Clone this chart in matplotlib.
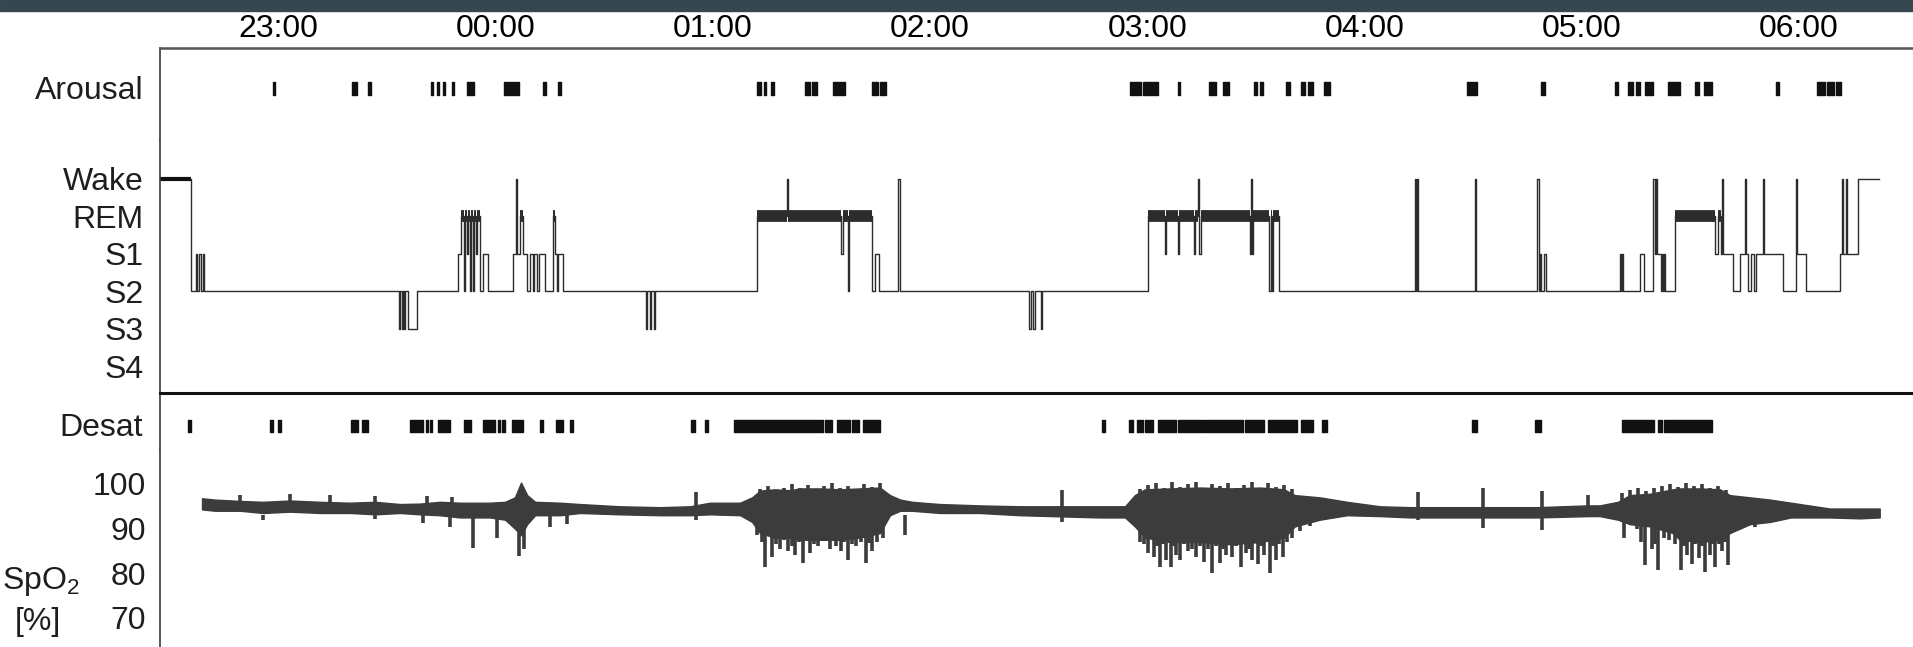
import matplotlib.pyplot as plt
from matplotlib.patches import Rectangle
from matplotlib.transforms import blended_transform_factory

plt.rcParams['font.family'] = ['Liberation Sans', 'DejaVu Sans']
plt.rcParams['mathtext.fontset'] = 'custom'
plt.rcParams['mathtext.rm'] = 'Liberation Sans'
plt.rcParams['text.color'] = '#1e1e1e'

# time axis in minutes after 22:00
hour_ticks = [60, 120, 180, 240, 300, 360, 420, 480]
hour_labels = ['23:00', '00:00', '01:00', '02:00', '03:00', '04:00', '05:00', '06:00']
t_left, t_right = 27.4, 511.5

stage_names = ['S4', 'S3', 'S2', 'S1', 'REM', 'Wake']
stage_level = {'4': 0, '3': 1, '2': 2, '1': 3, 'R': 4, 'W': 5}

# hypnogram: time of each stage change and the stage entered
hyp_t = [27.4, 36.0, 37.4, 37.6, 38.3, 38.6, 39.3, 39.6,
         93.4, 93.7, 94.1, 94.4, 94.8, 95.1, 95.9, 98.4,
         109.7, 110.5, 111.4, 111.6, 112.2, 112.5, 113.0, 113.3, 113.8, 114.1, 114.7, 115.0, 115.8, 116.6, 118.0,
         124.9, 125.7, 126.0, 126.8, 127.7, 128.8, 129.6, 130.4, 130.8, 131.5, 132.1, 133.7, 135.9, 136.4, 136.9, 137.3, 138.6,
         161.6, 162.0, 162.7, 163.1, 163.8, 164.2,
         192.3, 200.5, 200.8, 215.5, 215.9, 217.4, 217.7, 224.0, 224.8, 226.0, 231.2, 231.8,
         267.4, 267.8, 268.5, 268.9, 270.7, 271.1,
         300.2, 304.9, 305.2, 308.5, 308.8, 312.9, 313.2, 314.0, 314.3, 314.9, 328.4, 328.7, 329.0, 329.2, 333.6, 334.1, 334.5, 334.7, 336.4,
         374.0, 374.2, 374.5, 374.8, 390.5, 390.8, 407.6, 408.2, 408.5, 408.7, 409.6, 410.1,
         430.6, 430.8, 431.1, 431.4, 436.1, 437.2, 439.7, 440.2, 440.5, 440.8, 441.9, 442.2, 442.4, 442.7, 443.0,
         445.7, 456.8, 457.6, 458.4, 458.7, 459.0, 461.8, 463.7, 465.1, 465.4, 465.9, 466.7, 467.6, 468.1,
         470.1, 470.3, 475.6, 479.2, 479.4, 481.9, 491.3, 491.9, 492.1, 493.0, 493.2, 496.3]
hyp_stage = ['W', '2', '1', '2', '1', '2', '1', '2',
             '3', '2', '3', '2', '3', '2', '3', '2',
             '1', 'R', '2', 'R', '1', 'R', '2', 'R', '2', 'R', '1', 'R', '2', '1', '2',
             '1', 'W', '1', 'R', '1', '2', '1', '2', '1', '2', '1', '2', 'R', '1', '2', '1', '2',
             '3', '2', '3', '2', '3', '2',
             'R', 'W', 'R', '1', 'R', '2', 'R', '2', '1', '2', 'W', '2',
             '3', '2', '3', '2', '3', '2',
             'R', '1', 'R', '1', 'R', '1', 'R', 'W', '1', 'R', '1', 'W', '1', 'R', '2', 'R', '2', 'R', '2',
             'W', '2', 'W', '2', 'W', '2', 'W', '2', '1', '2', '1', '2',
             '1', '2', '1', '2', '1', '2', 'W', '1', 'W', '1', '2', '1', '2', '1', '2',
             'R', '1', 'R', '1', 'W', '1', '2', '1', 'W', '1', '2', '1', '2', '1',
             'W', '1', '2', 'W', '1', '2', '1', 'W', '1', 'W', '1', 'W']
hyp_end = 502.1

# arousal events (minutes)
arousal_start = [58.6, 80.4, 84.9, 102.3, 103.9, 105.6, 108.1, 112.2, 122.4, 124.6, 133.2, 137.3,
                 192.3, 194.2, 196.1, 205.5, 207.5, 213.3, 224.0, 226.2,
                 295.3, 298.9, 308.5, 317.1, 320.9, 329.5, 331.2, 338.3, 342.5, 344.4, 348.8,
                 388.3, 408.7, 429.2, 432.8, 435.0, 437.5, 443.8, 451.2, 453.7, 473.8, 485.0, 487.8, 490.2]
arousal_end = [59.2, 81.8, 85.7, 102.8, 104.5, 106.1, 108.6, 114.1, 124.3, 126.6, 134.0, 138.1,
               193.4, 194.8, 197.0, 206.9, 208.8, 216.6, 225.7, 227.9,
               298.3, 303.0, 309.1, 319.0, 322.6, 330.3, 332.0, 339.4, 343.6, 345.8, 350.5,
               391.1, 409.8, 430.0, 434.2, 436.1, 439.7, 447.1, 452.3, 455.9, 474.6, 487.2, 489.7, 491.6]

# desaturation events (minutes)
desat_start = [35.2, 57.8, 60.0, 80.2, 83.2, 96.5, 100.9, 102.0, 104.2, 111.4, 116.6, 120.8, 121.9, 124.6, 132.4, 136.8, 140.6,
               174.0, 177.9, 185.9, 211.0, 214.4, 218.6, 221.6,
               287.5, 295.0, 297.2, 299.4, 303.0, 308.5, 314.9, 327.0, 333.4, 342.5, 348.3,
               389.7, 407.1, 431.1, 441.1, 442.7]
desat_end = [36.0, 58.6, 60.8, 82.1, 84.9, 100.0, 101.4, 102.5, 107.5, 113.3, 119.9, 121.3, 122.7, 127.7, 133.2, 138.7, 141.5,
             175.1, 178.7, 210.5, 213.0, 218.0, 220.5, 226.3,
             288.4, 296.1, 298.9, 301.6, 308.0, 314.6, 326.5, 332.3, 341.4, 345.8, 349.7,
             391.1, 408.7, 439.9, 442.2, 456.0]

# SpO2 trace: upper / lower envelope of the signal band (%)
spo2_t = [39.0, 42.6, 49.5, 55.9, 63.3, 71.6, 79.9, 86.8, 93.7, 99.2,
          104.7, 110.3, 118.5, 122.7, 125.4, 127.1, 128.8, 131.0, 137.9, 143.4,
          154.4, 165.5, 173.8, 179.3, 187.6, 190.9, 193.1, 197.2,
          201.4, 204.1, 209.7, 215.2, 220.7, 226.2, 229.0, 231.8, 235.1, 242.8,
          253.8, 264.9, 287.0, 293.9, 296.6, 299.4, 306.3,
          314.6, 322.9, 331.2, 337.8, 340.8, 347.7, 355.2, 364.3, 372.9,
          391.4, 407.6, 421.7, 425.0, 430.0,
          433.3, 438.8, 445.2, 447.1, 452.6, 458.2, 460.9, 466.5, 472.0, 477.8,
          488.5, 496.8, 502.3]
spo2_hi = [96.8, 96.5, 96.2, 96.0, 96.3, 96.0, 95.8, 96.0, 95.5, 95.6,
           96.0, 95.8, 95.8, 96.0, 97.0, 100.3, 97.5, 96.0, 95.8, 95.5,
           95.0, 94.8, 95.0, 95.8, 95.8, 97.0, 98.5, 98.8,
           98.6, 99.0, 99.0, 98.8, 99.0, 99.2, 97.5, 96.5, 96.0, 95.5,
           95.2, 95.0, 95.0, 95.0, 97.5, 98.8, 99.0,
           99.2, 99.0, 99.2, 98.8, 97.5, 97.0, 96.0, 95.0, 94.8,
           94.8, 94.8, 95.2, 95.2, 96.0,
           97.5, 97.8, 98.8, 99.0, 99.0, 98.8, 97.5, 97.0, 96.5, 95.8,
           94.5, 94.5, 94.5]
spo2_lo = [94.3, 94.0, 94.0, 93.5, 93.8, 93.5, 93.5, 93.2, 93.5, 93.2,
           93.0, 92.5, 92.5, 92.0, 90.0, 88.5, 91.0, 93.0, 93.0, 93.5,
           93.2, 93.0, 93.0, 93.2, 93.0, 91.5, 89.0, 88.0,
           88.0, 87.5, 87.5, 87.5, 88.0, 89.0, 93.0, 94.0, 94.0, 93.5,
           93.5, 93.0, 92.5, 92.5, 90.5, 88.0, 87.0,
           87.0, 86.5, 87.0, 88.0, 90.5, 92.0, 93.0, 92.8, 92.5,
           92.5, 92.5, 92.8, 92.8, 92.0,
           91.0, 90.5, 89.0, 87.5, 87.0, 87.5, 89.0, 91.0, 91.5, 92.5,
           92.5, 92.3, 92.5]

# short upward SpO2 spikes: time and peak value
peak_t = [49.5, 63.3, 74.4, 86.8, 101.2, 108.1,
          175.4, 193.1, 195.3, 197.5, 199.7, 201.9, 204.1, 206.3, 208.6, 210.8, 213.0,
          215.2, 217.4, 219.6, 221.8, 224.0, 226.2, 276.5,
          298.0, 300.2, 302.4, 304.6, 306.9, 309.1, 311.3, 313.5, 315.7, 317.9,
          320.1, 322.3, 324.5, 326.7, 329.0, 331.2, 333.4, 335.6, 337.8, 340.0,
          374.8, 392.7, 409.0, 421.7,
          431.1, 433.3, 435.5, 437.7, 439.9, 442.2, 444.4, 446.6, 448.8, 451.0,
          453.2, 455.4, 457.6, 459.8]
peak_max = [97.5, 97.8, 97.5, 97.3, 97.3, 97.0,
            98.2, 98.8, 99.6, 98.5, 99.2, 100.0, 99.0, 99.8, 98.6, 99.5, 100.2,
            99.0, 99.6, 98.7, 100.0, 99.3, 100.3, 98.7,
            98.8, 99.8, 100.2, 99.0, 100.5, 99.3, 99.9, 100.4, 99.0, 100.1,
            99.5, 100.3, 99.2, 99.8, 100.5, 99.0, 100.2, 99.4, 99.8, 98.8,
            98.2, 99.0, 98.5, 97.5,
            98.0, 98.6, 99.0, 98.5, 99.2, 99.6, 100.0, 99.3, 100.2, 99.5,
            100.0, 99.2, 99.6, 98.6]

# downward SpO2 spikes: time and lowest value
dip_t = [55.9, 86.8, 100.0, 107.5, 113.9, 120.5, 126.6, 127.9, 135.1, 139.8, 175.4,
         192.3, 193.6, 194.5, 196.4, 197.5, 198.6, 199.7, 200.8, 201.9, 202.8, 204.0, 205.0,
         206.9, 208.0, 209.1, 211.0, 212.4, 214.0, 215.5, 216.4, 217.4, 218.5, 219.6, 221.0,
         222.4, 223.2, 224.0, 225.4, 227.1, 233.1, 276.5,
         298.0, 299.1, 300.2, 301.9, 302.7, 303.5, 304.3, 305.2, 306.6, 307.3, 308.0, 309.1,
         310.2, 311.3, 312.4, 313.5, 314.6, 315.7, 316.8, 317.9, 319.0, 320.1, 321.0, 321.8,
         322.6, 323.4, 324.6, 325.9, 326.6, 327.3, 328.1, 329.0, 330.6, 331.4, 332.3, 333.9,
         334.8, 335.6, 336.5, 337.5, 338.7, 340.0, 342.2, 345.0,
         374.8, 392.7, 409.0,
         431.7, 435.3, 436.4, 437.5, 439.4, 440.2, 441.1, 442.7, 444.0, 445.8, 447.4, 448.2,
         449.1, 450.4, 451.3, 452.4, 453.2, 454.0, 455.4, 456.1, 456.8, 457.8, 458.7, 459.6,
         460.4, 467.8]
dip_min = [92.0, 92.2, 91.3, 90.4, 85.7, 88.0, 83.9, 85.5, 90.4, 91.0, 92.0,
           88.5, 87.0, 81.4, 83.7, 86.5, 85.5, 87.5, 85.0, 86.0, 84.0, 87.0, 82.3,
           84.5, 86.5, 86.0, 87.5, 85.5, 86.0, 85.0, 87.0, 83.0, 86.5, 86.0, 87.0,
           82.3, 86.8, 85.0, 87.0, 88.0, 88.6, 91.5,
           87.0, 86.5, 84.5, 83.7, 86.0, 81.4, 86.5, 83.0, 81.4, 86.0, 84.0, 83.0,
           86.5, 85.0, 85.5, 83.7, 86.0, 82.5, 85.5, 80.0, 86.0, 82.3, 85.5, 84.0,
           86.5, 83.7, 86.0, 81.4, 86.5, 84.5, 85.5, 83.0, 82.0, 86.0, 84.0, 80.0,
           86.0, 83.0, 86.5, 83.7, 87.0, 87.9, 89.5, 90.5,
           92.0, 90.2, 89.7,
           87.9, 90.0, 87.0, 81.9, 85.5, 86.5, 80.8, 88.0, 87.5, 86.5, 80.8, 86.0,
           84.0, 82.0, 86.5, 83.5, 86.0, 80.3, 84.0, 86.5, 81.4, 86.5, 85.0, 87.0,
           81.9, 90.4]

ink = '#2c2c2c'
trace = '#3c3c3c'
fs = 23

W, H = 1913, 647
fig = plt.figure(figsize=(W / 100, H / 100), dpi=100)
fig.add_artist(Rectangle((0, 1 - 11 / H), 1, 11 / H, transform=fig.transFigure,
                         color='#37474f', zorder=10))


def panel(top, bottom):
    ax = fig.add_axes([160 / W, 1 - bottom / H, 1 - 160 / W, (bottom - top) / H])
    for side in ['right', 'bottom', 'top']:
        ax.spines[side].set_visible(False)
    ax.spines['left'].set_color('#3a3a3a')
    ax.spines['left'].set_linewidth(1.2)
    ax.set_xlim(t_left, t_right)
    ax.tick_params(axis='x', bottom=False, labelbottom=False)
    ax.tick_params(axis='y', length=0, labelsize=fs, pad=12, colors='#1e1e1e')
    return ax


ax_ar = panel(48, 140)
ax_hy = panel(140, 393)
ax_de = panel(393, 450)
ax_sp = panel(450, 647)

# top time axis
ax_ar.spines['top'].set_visible(True)
ax_ar.spines['top'].set_color('#555555')
ax_ar.spines['top'].set_linewidth(1.8)
ax_ar.xaxis.tick_top()
ax_ar.set_xticks(hour_ticks, hour_labels)
ax_ar.tick_params(axis='x', top=True, labeltop=True, length=0, pad=3, labelsize=fs)

# arousal
ax_ar.set_ylim(0, 1)
ax_ar.broken_barh([(s, e - s) for s, e in zip(arousal_start, arousal_end)], (0.49, 0.14), color='#111111')
ax_ar.set_yticks([0.575], ['Arousal'])

# hypnogram
levels = [stage_level[s] for s in hyp_stage]
ax_hy.step(hyp_t + [hyp_end], levels + [levels[-1]], where='post', color=ink, lw=1.0)
bounds = hyp_t + [hyp_end]
for i, s in enumerate(hyp_stage):
    if s == 'R':
        ax_hy.hlines(4, bounds[i], bounds[i + 1], color=ink, lw=8.5)
ax_hy.hlines(5, bounds[0], bounds[1], color='#111111', lw=3)
ax_hy.set_ylim(-0.72, 6.04)
ax_hy.set_yticks(range(6), stage_names)

# desaturation events, with thick separator above
ax_de.spines['top'].set_visible(True)
ax_de.spines['top'].set_color('#111111')
ax_de.spines['top'].set_linewidth(2.2)
ax_de.set_ylim(0, 1)
ax_de.broken_barh([(s, e - s) for s, e in zip(desat_start, desat_end)], (0.316, 0.21), color='#111111')
ax_de.set_yticks([0.44], ['Desat'])

# SpO2
ax_sp.fill_between(spo2_t, spo2_lo, spo2_hi, color=trace, lw=1.0, edgecolor=trace)
ax_sp.vlines(peak_t, 94.5, peak_max, color=trace, lw=2.6)
ax_sp.vlines(dip_t, dip_min, 93.0, color=trace, lw=2.6)
ax_sp.set_ylim(63.5, 107.6)
ax_sp.set_yticks([70, 80, 90, 100])
ax_sp.tick_params(axis='y', pad=10)
trans = blended_transform_factory(fig.transFigure, ax_sp.transData)
ax_sp.text(0.001, 78.1, r'SpO$_\mathregular{2}$', transform=trans, ha='left', va='center', fontsize=fs)
ax_sp.text(38 / W, 69.1, '[%]', transform=trans, ha='center', va='center', fontsize=fs)

fig.savefig('out.png', dpi=100)
